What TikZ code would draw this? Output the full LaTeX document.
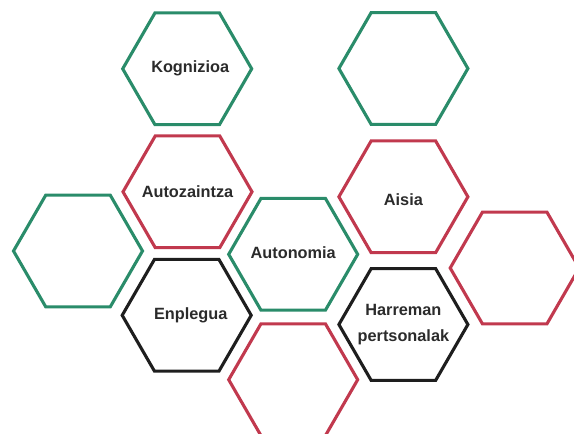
\documentclass[tikz,border=0pt]{standalone}
\usepackage{fontspec}
\setmainfont{Liberation Sans}
\usetikzlibrary{shapes.geometric}
\definecolor{hexgreen}{HTML}{2A8C6A}
\definecolor{hexred}{HTML}{C1394E}
\definecolor{hexblack}{HTML}{1E1E1E}
\definecolor{hextext}{HTML}{2B2B2B}

\begin{document}
\begin{tikzpicture}[x=1pt,y=-1pt]
\tikzstyle{hexa} = [draw,shape=regular polygon,regular polygon sides=6,minimum size=129pt,inner sep=0pt,line width=3.1pt,line join=miter]
\tikzstyle{hgreen} = [hexa,color=hexgreen]
\tikzstyle{hred} = [hexa,color=hexred]
\tikzstyle{hblack} = [hexa,color=hexblack]
\tikzstyle{hlabel} = [text=hextext,align=center,font=\fontsize{16.3}{26.7}\selectfont\bfseries]

\useasboundingbox (0,0) rectangle (574,434);
\clip (0,0) rectangle (574,434);

\node[hgreen,label={[hlabel,xshift=3pt]center:Kognizioa}] (kog) at (187.2,68.8) {};
\node[hgreen] (topright) at (403.4,68.5) {};
\node[hred,label={[hlabel]center:Autozaintza}] (autoz) at (187.5,191.8) {};
\node[hred,label={[hlabel,yshift=-3pt]center:Aisia}] (aisia) at (403.4,196.8) {};
\node[hgreen] (left) at (78,251) {};
\node[hgreen,label={[hlabel,yshift=2pt]center:Autonomia}] (auton) at (293.2,254.3) {};
\node[hred] (right) at (514.7,268) {};
\node[hblack,label={[hlabel,xshift=4pt]center:Enplegua}] (enpl) at (186.7,315.3) {};
\node[hblack,label={[hlabel]center:Harreman\\pertsonalak}] (harr) at (403.4,324.5) {};
\node[hred] (bottom) at (293.2,379.7) {};
\end{tikzpicture}
\end{document}
